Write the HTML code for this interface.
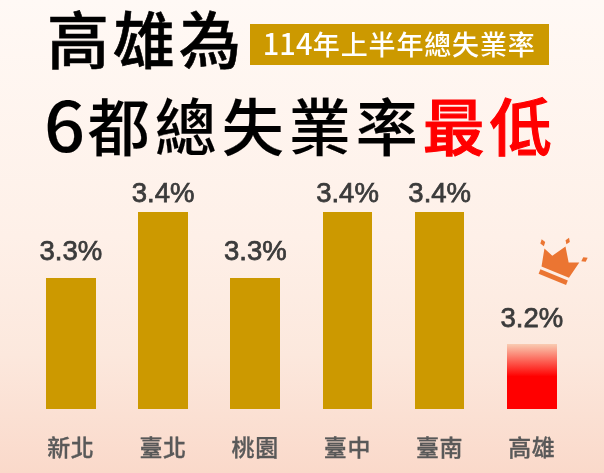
<!DOCTYPE html>
<html lang="zh-Hant">
<head>
<meta charset="utf-8">
<title>高雄為6都總失業率最低</title>
<style>
html,body{margin:0;padding:0;}
body{width:604px;height:473px;overflow:hidden;position:relative;
  background:linear-gradient(to bottom,#fff9f5 0%,#fef0e8 50%,#fce8dd 75%,#fad9ca 100%);
  font-family:"Liberation Sans","Noto Sans CJK TC",sans-serif;}
.abs{position:absolute;white-space:nowrap;line-height:1;}
.t1{left:47px;top:12px;font-size:62px;font-weight:500;-webkit-text-stroke:0.6px #000;color:#000;letter-spacing:4px;}
.t2{left:44px;top:92.5px;font-size:62px;font-weight:500;-webkit-text-stroke:0.15px #000;color:#000;letter-spacing:5px;font-family:"Noto Sans CJK TC","Liberation Sans",sans-serif;}
.t2 i{font-style:normal;font-size:69.5px;line-height:0;letter-spacing:0;margin-right:4px;position:relative;top:1.6px;display:inline-block;transform:scaleX(1.035);transform-origin:0 0;}
.t2 b{color:#f00;font-weight:500;-webkit-text-stroke:1.1px #f00;}
.badge{left:250px;top:24px;width:298.5px;height:40.7px;background:#cc9900;color:#fff;font-size:27px;line-height:39.6px;text-align:center;font-weight:500;letter-spacing:0.85px;font-family:"Noto Sans CJK TC","Liberation Sans",sans-serif;}
.badge i{font-style:normal;font-size:29px;line-height:0;letter-spacing:0;margin-right:0.4px;}
.bar{position:absolute;background:#cc9900;width:49.7px;bottom:64.3px;}
.bar.red{background:linear-gradient(to bottom,#f9ccb2 0%,#ff0000 50%,#ff0000 100%);}
.val{position:absolute;width:100px;text-align:center;font-size:27.5px;color:#3b3b3b;line-height:1;-webkit-text-stroke:0.75px #3b3b3b;}
.lab{position:absolute;width:100px;text-align:center;font-size:23px;color:#595959;line-height:1;font-weight:500;letter-spacing:0.6px;-webkit-text-stroke:0.3px #595959;margin-left:-0.1px;}
</style>
</head>
<body>
<div class="abs t1">高雄為</div>
<div class="abs badge"><i>114</i>年上半年總失業率</div>
<div class="abs t2"><i>6</i>都總失業率<b>最低</b></div>

<div class="val" style="left:20.9px;top:236.5px;">3.3%</div>
<div class="bar" style="left:46.0px;height:131px;"></div>
<div class="lab" style="left:20.9px;top:437px;">新北</div>

<div class="val" style="left:113.1px;top:179px;">3.4%</div>
<div class="bar" style="left:138.2px;height:197px;"></div>
<div class="lab" style="left:113.1px;top:437px;">臺北</div>

<div class="val" style="left:205.3px;top:236.5px;">3.3%</div>
<div class="bar" style="left:230.4px;height:131px;"></div>
<div class="lab" style="left:205.3px;top:437px;">桃園</div>

<div class="val" style="left:297.5px;top:179px;">3.4%</div>
<div class="bar" style="left:322.6px;height:197px;"></div>
<div class="lab" style="left:297.5px;top:437px;">臺中</div>

<div class="val" style="left:389.7px;top:179px;">3.4%</div>
<div class="bar" style="left:414.8px;height:197px;"></div>
<div class="lab" style="left:389.7px;top:437px;">臺南</div>

<div class="val" style="left:481.9px;top:303.5px;">3.2%</div>
<div class="bar red" style="left:507.0px;height:65px;"></div>
<div class="lab" style="left:481.9px;top:437px;">高雄</div>
<svg class="crown" width="604" height="473" viewBox="0 0 604 473" style="position:absolute;left:0;top:0;pointer-events:none;" aria-hidden="true">
<g transform="translate(538.6 273.8) rotate(22) scale(1 -1)" fill="#eb7532">
<polygon points="0,0 29.6,0 29.6,4.8 0,4.8"/>
<polygon points="0,7.8 -4.1,25.7 6,21.8 14.7,35.4 23.6,21.8 33.5,25.7 29.6,7.8"/>
<polygon points="14.7,37.7 17,41.3 14.7,44.9 12.4,41.3"/>
<polygon points="-5.5,27.6 -5.8,32.0 -10.1,33.2 -9.8,28.8"/>
<polygon points="34.9,27.6 35.2,32.0 39.5,33.2 39.2,28.8"/>
</g>
</svg>
</body>
</html>
